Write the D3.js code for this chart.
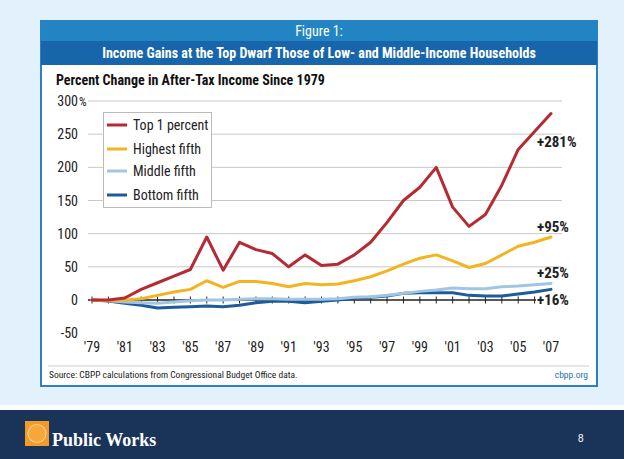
<!DOCTYPE html>
<html><head><meta charset="utf-8">
<script src="https://cdn.jsdelivr.net/npm/d3@7"></script>
<style>
html,body{margin:0;padding:0;background:#fff;}
svg{display:block;}
text{font-family:"Liberation Sans Narrow","Roboto Condensed","Roboto",sans-serif;}
text.serif{font-family:"Liberation Serif","DejaVu Serif",serif;}
text.plain{font-family:"Liberation Sans","DejaVu Sans",sans-serif;}
</style></head>
<body>
<svg id="c" width="624" height="459"></svg>
<script>
const years = d3.range(1979, 2008);
const top1    = [0,0,3,16,26,36,46,95,45,87, 76,70,50,68,52,54,68,87,117,150, 170,200,140,111,129,173,227,254,281];
const highest = [0,-1,0,2,7,12,16,29,19,28, 28,25,20,25,23,24,29,35,44,54, 63,68,59,49,55,68,81,87,95];
const middle  = [0,-1,-3,-4,-5,-3,-1,0,0,1, 2,2,1,1,1,2,4,5,7,10, 13,15,18,17,17,20,21,23,25];
const bottom  = [0,-1.5,-5,-8,-12,-11,-10,-9,-10,-8, -4,-2,-2,-4,-2,0,2.5,4,6,10, 11,11,11,7,6,6,9,12,16];
const seriesNames = ["Top 1 percent","Highest fifth","Middle fifth","Bottom fifth"];
const endLabels = ["+281%","+95%","+25%","+16%"];
const yTicks = [-50,0,50,100,150,200,250,300];
const xTickYears = d3.range(1979, 2008, 2);

const colors = ["#b52a33","#f2b420","#a3c5e4","#1d5b9b"];
const seriesData = [top1, highest, middle, bottom];

const svg = d3.select("#c");
// slide background
svg.append("rect").attr("x",0).attr("y",0).attr("width",624).attr("height",405).attr("fill","#e2f1fb");
svg.append("rect").attr("x",0).attr("y",405).attr("width",624).attr("height",5).attr("fill","#ffffff");
svg.append("rect").attr("x",0).attr("y",410).attr("width",624).attr("height",49).attr("fill","#1a3459");

// figure box
svg.append("rect").attr("x",41).attr("y",21).attr("width",556).attr("height",365).attr("fill","#fff").attr("stroke","#2a82c4").attr("stroke-width",2);
svg.append("rect").attr("x",41).attr("y",21).attr("width",556).attr("height",20).attr("fill","#2384c4");
svg.append("rect").attr("x",41).attr("y",41).attr("width",556).attr("height",24).attr("fill","#1765aa");
svg.append("text").attr("x",319).attr("y",36).attr("text-anchor","middle").attr("fill","#fff").attr("font-size",14).text("Figure 1:");
svg.append("text").attr("x",319).attr("y",58).attr("text-anchor","middle").attr("fill","#fff").attr("font-size",14).attr("font-weight","bold").text("Income Gains at the Top Dwarf Those of Low- and Middle-Income Households");
svg.append("text").attr("x",56).attr("y",85).attr("fill","#111").attr("font-size",14).attr("font-weight","bold").text("Percent Change in After-Tax Income Since 1979");

const x = d3.scaleLinear().domain([1979,2007]).range([92,551]);
const y = d3.scaleLinear().domain([0,300]).range([300,101]);

// gridlines
svg.append("g").selectAll("line").data(yTicks.filter(v=>v>0)).join("line")
  .attr("x1",88).attr("x2",562).attr("y1",d=>y(d)).attr("y2",d=>y(d))
  .attr("stroke","#c8c8c8").attr("stroke-width",1);

// y labels
const yl = svg.append("g");
yl.selectAll("text").data(yTicks).join("text")
  .attr("x",78).attr("y",d=>y(d)+5).attr("text-anchor","end")
  .attr("font-size",14).attr("fill","#222").text(d=>d);
yl.append("text").attr("x",79).attr("y",y(300)+5).attr("font-size",12).attr("fill","#222").text("%");

// zero axis with ticks
svg.append("line").attr("x1",88).attr("x2",536).attr("y1",y(0)).attr("y2",y(0)).attr("stroke","#222").attr("stroke-width",1.3);
svg.append("g").selectAll("line").data(years.filter(v=>v<2007)).join("line")
  .attr("x1",d=>x(d)).attr("x2",d=>x(d)).attr("y1",y(0)-3.5).attr("y2",y(0)+3.5)
  .attr("stroke","#222").attr("stroke-width",1);

// x labels
svg.append("g").selectAll("text").data(xTickYears).join("text")
  .attr("x",d=>x(d)).attr("y",352).attr("text-anchor","middle")
  .attr("font-size",14).attr("fill","#222").text(d=>"'"+String(d).slice(2));

// lines
const line = d3.line().x((d,i)=>x(years[i])).y(d=>y(d));
[3,2,1,0].forEach(k=>{
  svg.append("path").datum(seriesData[k]).attr("d",line)
    .attr("fill","none").attr("stroke",colors[k]).attr("stroke-width",3)
    .attr("stroke-linejoin","round").attr("stroke-linecap","round");
});

// end labels
const endY = [147,232,278,305];
endLabels.forEach((t,i)=>{
  svg.append("text").attr("x",537).attr("y",endY[i]).attr("font-size",15).attr("font-weight","bold").attr("fill","#222").text(t);
});

// legend
svg.append("rect").attr("x",103.5).attr("y",112.5).attr("width",108).attr("height",95).attr("fill","#fff").attr("stroke","#bbb");
const ly = [125,149,171,195];
seriesNames.forEach((n,i)=>{
  svg.append("line").attr("x1",107).attr("x2",127).attr("y1",ly[i]).attr("y2",ly[i]).attr("stroke",colors[i]).attr("stroke-width",3);
  svg.append("text").attr("x",133).attr("y",ly[i]+5).attr("font-size",14).attr("fill","#222").text(n);
});

// source
svg.append("line").attr("x1",48).attr("x2",589).attr("y1",366).attr("y2",366).attr("stroke","#ccc");
svg.append("text").attr("x",49).attr("y",378).attr("font-size",9.5).attr("fill","#222").text("Source: CBPP calculations from Congressional Budget Office data.");
svg.append("text").attr("x",588).attr("y",378).attr("text-anchor","end").attr("font-size",9.5).attr("fill","#2a6fb0").text("cbpp.org");

// footer
svg.append("rect").attr("x",25).attr("y",421).attr("width",24).attr("height",25).attr("fill","#f39a2b");
svg.append("circle").attr("cx",37).attr("cy",433.5).attr("r",9).attr("fill","#f7a63a").attr("stroke","#fbd29a").attr("stroke-width",1.2);
svg.append("text").attr("class","serif").attr("x",52).attr("y",446).attr("font-weight","bold").attr("font-size",18).attr("fill","#fff").text("Public Works");
svg.append("text").attr("class","plain").attr("x",578).attr("y",442).attr("font-size",10).attr("fill","#fff").text("8");
</script>
</body></html>
